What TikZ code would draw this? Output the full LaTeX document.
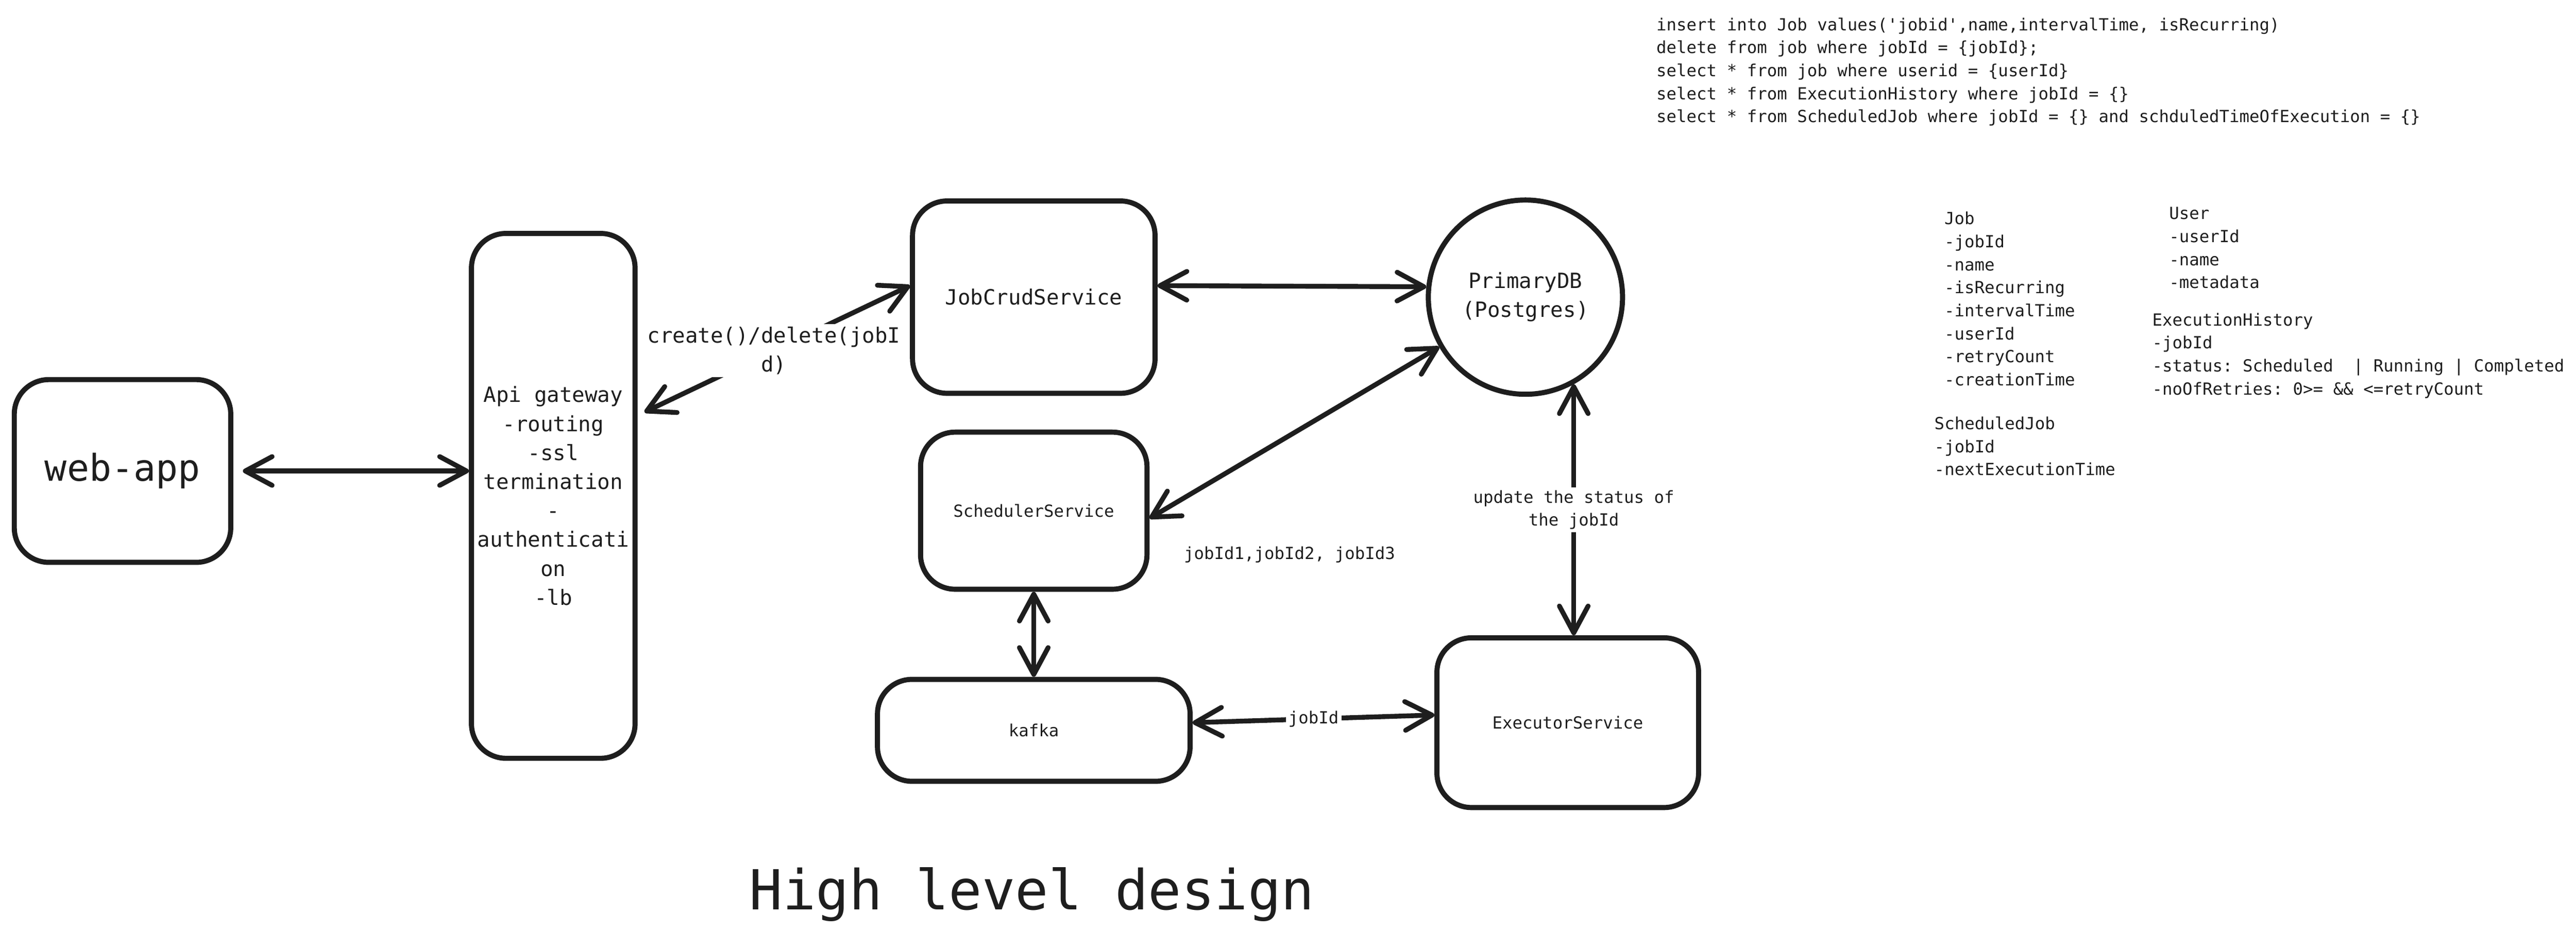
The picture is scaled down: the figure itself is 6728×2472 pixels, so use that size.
\documentclass[tikz,border=0pt]{standalone}
\usepackage{fontspec}
\setmonofont{DejaVu Sans Mono}
\renewcommand*\familydefault{\ttdefault}
\usetikzlibrary{positioning,arrows.meta}
\definecolor{ink}{HTML}{1E1E1E}

\begin{document}
\begin{tikzpicture}[x=0.01cm, y=-0.01cm, color=ink,
    box/.style={draw, rounded corners=0.9cm, line width=3.8pt, align=center},
    sm/.style={font=\fontsize{12.4}{17.1}\selectfont},
    md/.style={font=\fontsize{15.6}{21.5}\selectfont},
    note/.style={sm, align=left, anchor=north west, inner sep=0pt},
    lbl/.style={fill=white, inner sep=2pt, align=center},
    >={Straight Barb[length=0.7cm,width=0.75cm,round]}, line width=3.6pt]

    \useasboundingbox (0,0) rectangle (6728,2472);

    \node[box, font=\fontsize{27.4}{32}\selectfont, minimum width=5.65cm, minimum height=4.77cm] (Web) at (320,1230) {web-app};
    \node[box, md, minimum width=4.27cm, minimum height=13.7cm] (Api) at (1445,1295) {Api gateway\\-routing\\-ssl\\termination\\-\\authenticati\\on\\-lb};
    \node[box, md, minimum width=6.33cm, minimum height=5.02cm] (Crud) at (2700,776) {JobCrudService};
    \node[box, sm, minimum width=5.91cm, minimum height=4.10cm, below=0.88cm of Crud] (Sched) {SchedulerService};
    \node[box, sm, minimum width=8.16cm, minimum height=2.66cm, below=2.22cm of Sched] (Kafka) {kafka};
    \node[circle, draw, line width=3.8pt, md, align=center, minimum size=5.07cm, right=7cm of Crud] (DB) {PrimaryDB\\(Postgres)};
    \node[box, sm, minimum width=6.83cm, minimum height=4.43cm, right=6.31cm of Kafka, yshift=0.2cm] (Exec) {ExecutorService};

    \draw[<->, shorten <=0.25cm] (Web.east) -- (Web.east -| Api.west);
    \draw[<->, shorten <=0.2cm] ([yshift=2.1cm]Api.east) -- ([yshift=0.3cm]Crud.west) node[lbl, md, midway] {create()/delete(jobI\\d)};
    \draw[<->] ([yshift=0.3cm]Crud.east) -- (DB.174);
    \draw[<->] ([yshift=-0.2cm]Sched.east) -- (DB.210);
    \draw[<->] (Sched.south) -- (Kafka.north);
    \draw[<->] ([yshift=0.2cm]Kafka.east) -- ([yshift=0.2cm]Exec.west) node[lbl, sm, midway] {jobId};
    \draw[<->] (DB.-61) -- (DB.-61 |- Exec.north) node[lbl, sm, midway] {update the status of\\the jobId};

    \node[sm] (Batch) at (3368,1448) {jobId1,jobId2, jobId3};
    \node[font=\fontsize{41}{48}\selectfont] (Title) at (2695,2336) {High level design};

    % queries and tables
    \node[note] (Sql) at (4320,40) {insert into Job values('jobid',name,intervalTime, isRecurring)\\delete from job where jobId = \{jobId\};\\select * from job where userid = \{userId\}\\select * from ExecutionHistory where jobId = \{\}\\select * from ScheduledJob where jobId = \{\} and schduledTimeOfExecution = \{\}};
    \node[note] (Job) at (5072,547) {Job\\-jobId\\-name\\-isRecurring\\-intervalTime\\-userId\\-retryCount\\-creationTime};
    \node[note] (User) at (5659,535) {User\\-userId\\-name\\-metadata};
    \node[note] (History) at (5615,811) {ExecutionHistory\\-jobId\\-status: Scheduled\ \ | Running | Completed\\-noOfRetries: 0>= \&\& <=retryCount};
    \node[note] (Scheduled) at (5046,1082) {ScheduledJob\\-jobId\\-nextExecutionTime};
\end{tikzpicture}
\end{document}
